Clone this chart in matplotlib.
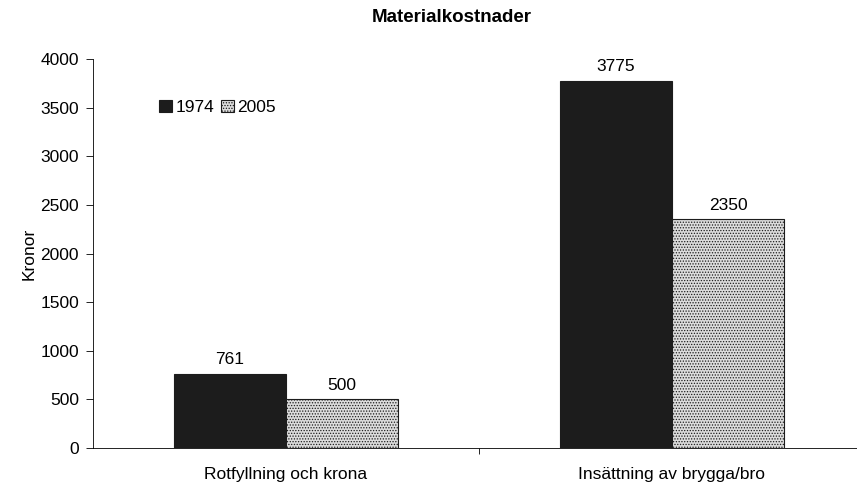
import matplotlib
matplotlib.use("Agg")
import matplotlib.pyplot as plt
import numpy as np

plt.rcParams['font.family'] = ['Liberation Sans', 'DejaVu Sans']
plt.rcParams['hatch.color'] = '#8a8a8a'
plt.rcParams['hatch.linewidth'] = 0.6

# data
categories = ["Rotfyllning och krona", "Insättning av brygga/bro"]
years = ["1974", "2005"]
v1974 = [761, 3775]
v2005 = [500, 2350]

fs = 12.5

fig = plt.figure(figsize=(8.57, 4.84), dpi=100)
ax = fig.add_axes([93/857, 36/484, 764/857, 389/484])

x = np.arange(len(categories))
w = 0.29
b1 = ax.bar(x - w/2, v1974, w, color='#1c1c1c', edgecolor='#1c1c1c', linewidth=0.8, label=years[0])
b2 = ax.bar(x + w/2, v2005, w, color='#dcdcdc', edgecolor='#1c1c1c', linewidth=0.8,
            hatch='......', label=years[1])

for bars in (b1, b2):
    for r in bars:
        ax.text(r.get_x() + r.get_width()/2, r.get_height() + 70, "%d" % r.get_height(),
                ha='center', va='bottom', fontsize=fs)

ax.set_xlim(-0.5, -0.5 + 764/386)
ax.set_ylim(0, 4000)
ax.set_yticks(np.arange(0, 4001, 500))
ax.set_xticks([0.5])
ax.set_xticklabels([""])
ax.tick_params(axis='x', length=4, width=0.6, direction='out')
ax.tick_params(axis='y', length=5, width=0.6, direction='out', labelsize=fs, pad=5)
for i, c in enumerate(categories):
    ax.text(i, -200, c, ha='center', va='top', fontsize=fs)

for s in ['top', 'right']:
    ax.spines[s].set_visible(False)
ax.spines['left'].set_linewidth(0.6)
ax.spines['bottom'].set_linewidth(0.6)

ax.set_ylabel("Kronor", fontsize=fs, labelpad=3)
fig.suptitle("Materialkostnader", fontsize=13.5, fontweight='bold', x=452/857, y=1 - 9/484, va='top')

leg = ax.legend(loc='upper left', bbox_to_anchor=(57/764, 1 - 32/389), ncol=2, frameon=False,
                fontsize=fs, handlelength=0.75, handleheight=0.75, handletextpad=0.2,
                columnspacing=0.4, borderpad=0)

fig.savefig("out.png", dpi=100)
